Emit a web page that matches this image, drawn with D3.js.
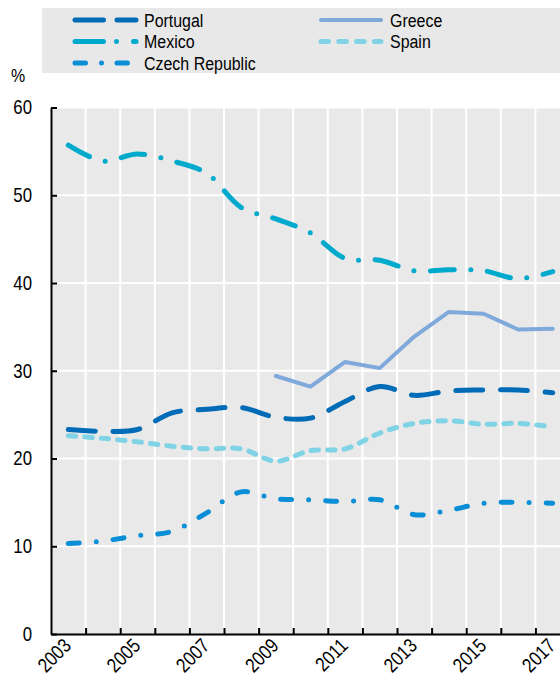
<!DOCTYPE html>
<html>
<head>
<meta charset="utf-8">
<script src="https://cdn.jsdelivr.net/npm/d3@7"></script>
<style>
  body { margin: 0; background: #fff; }
  svg { display: block; font-family: "Liberation Sans", Arial, sans-serif; }
</style>
</head>
<body>
<div id="chart"></div>
<script>
// values
const years = [2003, 2004, 2005, 2006, 2007, 2008, 2009, 2010, 2011, 2012, 2013, 2014, 2015, 2016, 2017];
const portugal = [23.3, 23.1, 23.3, 25.2, 25.6, 25.8, 24.7, 24.6, 26.5, 28.2, 27.2, 27.7, 27.8, 27.8, 27.5];
const mexico = [55.7, 53.9, 54.7, 53.9, 52.5, 48.6, 47.3, 45.7, 42.8, 42.6, 41.4, 41.5, 41.4, 40.5, 41.3];
const czech = [10.3, 10.6, 11.2, 11.7, 13.8, 16.2, 15.4, 15.3, 15.1, 15.3, 13.6, 14.1, 14.9, 15.0, 14.9];
const greece = [null, null, null, null, null, null, 29.4, 28.2, 31.0, 30.3, 33.9, 36.7, 36.5, 34.7, 34.8];
const spain = [22.6, 22.3, 21.9, 21.4, 21.1, 21.1, 19.7, 20.9, 21.1, 22.9, 24.0, 24.3, 23.9, 24.0, 23.6];
const yTicks = [0, 10, 20, 30, 40, 50, 60];
const xLabels = [2003, 2005, 2007, 2009, 2011, 2013, 2015, 2017];

const series = [
  { name: 'Greece', values: greece, color: '#7fa8db', width: 4, dash: null, legendDash: null, smooth: false, col: 1, row: 0 },
  { name: 'Spain', values: spain, color: '#80d3e5', width: 5, dash: '7.5,9', legendDash: '7.5,10.3', smooth: true, col: 1, row: 1 },
  { name: 'Portugal', values: portugal, color: '#006bb6', width: 5, dash: '27,17.7', legendDash: '28.5,13.5', smooth: true, col: 0, row: 0 },
  { name: 'Mexico', values: mexico, color: '#00aacc', width: 5, dash: '24,16.5,0,16.5', legendDash: '28.5,13,0,17', smooth: true, col: 0, row: 1 },
  { name: 'Czech Republic', values: czech, color: '#0a8fd6', width: 5, dash: '11,17,0,17', legendDash: '10.5,16,0,15.5', smooth: true, col: 0, row: 2 }
];

const W = 560, H = 682;
const plot = { left: 51, top: 107.5, right: 570, bottom: 634 };
const narrow = 'scale(0.84,1)'; // no narrow font installed, squeeze the regular one

const x = d3.scaleLinear().domain([2002.5, 2017.5]).range([plot.left, plot.right]);
const y = d3.scaleLinear().domain([0, 60]).range([plot.bottom, plot.top]);

const svg = d3.select('#chart').append('svg')
  .attr('width', W)
  .attr('height', H);

// legend box
svg.append('rect')
  .attr('x', 42).attr('y', 8)
  .attr('width', W - 42).attr('height', 65)
  .attr('fill', '#e8e8e8');

// plot background
svg.append('rect')
  .attr('x', plot.left).attr('y', plot.top)
  .attr('width', plot.right - plot.left).attr('height', plot.bottom - plot.top)
  .attr('fill', '#e9e9e9');

// grid
const boundaries = years.slice(1).map(d => d - 0.5);
svg.append('g').selectAll('line')
  .data(boundaries)
  .enter().append('line')
  .attr('x1', d => x(d)).attr('x2', d => x(d))
  .attr('y1', plot.top).attr('y2', plot.bottom)
  .attr('stroke', '#fff').attr('stroke-width', 2);
svg.append('g').selectAll('line')
  .data(yTicks.filter(d => d > 0))
  .enter().append('line')
  .attr('x1', plot.left).attr('x2', plot.right)
  .attr('y1', d => y(d)).attr('y2', d => y(d))
  .attr('stroke', '#fff').attr('stroke-width', 2);

// y axis
const yAxis = d3.axisLeft(y).tickValues(yTicks).tickSizeInner(-6).tickSizeOuter(0).tickPadding(19);
const gy = svg.append('g').attr('transform', `translate(${plot.left},0)`).call(yAxis);
gy.select('.domain').attr('stroke', '#000').attr('stroke-width', 2);
gy.selectAll('.tick line').attr('stroke', '#000').attr('stroke-width', 2);
gy.selectAll('.tick text')
  .attr('x', null)
  .attr('transform', `translate(-19,0) ${narrow}`)
  .attr('font-size', 20).attr('fill', '#000')
  .attr('font-family', '"Liberation Sans", Arial, sans-serif');

// x axis (ticks on year boundaries)
const xAxis = d3.axisBottom(x).tickValues(boundaries).tickSizeInner(-6).tickSizeOuter(0).tickFormat('');
const gx = svg.append('g').attr('transform', `translate(0,${plot.bottom})`).call(xAxis);
gx.select('.domain').attr('stroke', '#000').attr('stroke-width', 2);
gx.selectAll('.tick line').attr('stroke', '#000').attr('stroke-width', 2);

svg.append('g').selectAll('text')
  .data(xLabels)
  .enter().append('text')
  .attr('transform', d => `translate(${x(d) + 4},${plot.bottom + 13}) rotate(-45) ${narrow}`)
  .attr('text-anchor', 'end')
  .attr('font-size', 20)
  .attr('fill', '#000')
  .text(d => d);

svg.append('text')
  .attr('transform', `translate(11,82) ${narrow}`)
  .attr('font-size', 19)
  .text('%');

// lines
series.forEach(s => {
  const line = d3.line()
    .defined(d => d.v != null)
    .x(d => x(d.year))
    .y(d => y(d.v))
    .curve(s.smooth ? d3.curveCatmullRom.alpha(0.5) : d3.curveLinear);
  svg.append('path')
    .datum(years.map((year, i) => ({ year, v: s.values[i] })))
    .attr('d', line)
    .attr('fill', 'none')
    .attr('stroke', s.color)
    .attr('stroke-width', s.width)
    .attr('stroke-linecap', 'round')
    .attr('stroke-linejoin', 'round')
    .attr('stroke-dasharray', s.dash);
});

// legend
const legendCols = [{ x0: 75, x1: 136, tx: 144 }, { x0: 321, x1: 381, tx: 390 }];
const legendRows = [20, 41.5, 63];
series.forEach(s => {
  const c = legendCols[s.col];
  const ly = legendRows[s.row];
  const x1 = s.name === 'Czech Republic' ? 130 : c.x1;
  svg.append('line')
    .attr('x1', c.x0).attr('x2', x1)
    .attr('y1', ly).attr('y2', ly)
    .attr('stroke', s.color)
    .attr('stroke-width', s.width)
    .attr('stroke-linecap', 'round')
    .attr('stroke-dasharray', s.legendDash);
  svg.append('text')
    .attr('transform', `translate(${c.tx},${ly}) ${narrow}`)
    .attr('dy', '0.35em')
    .attr('font-size', 19)
    .attr('fill', '#000')
    .text(s.name);
});
</script>
</body>
</html>
